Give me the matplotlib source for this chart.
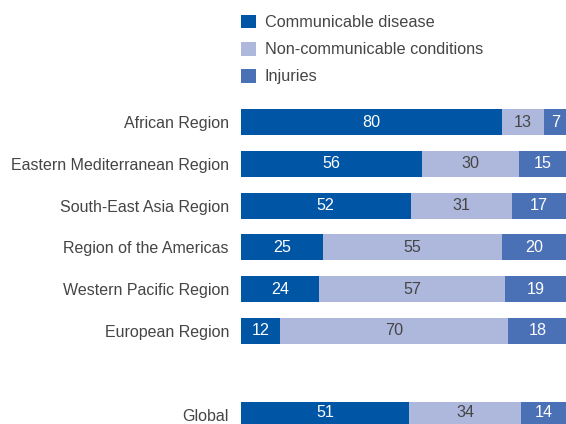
import matplotlib.pyplot as plt
from matplotlib.patches import Patch
import numpy as np

plt.rcParams['font.family'] = ['Liberation Sans', 'DejaVu Sans']

# Data
regions = ['African Region', 'Eastern Mediterranean Region', 'South-East Asia Region',
           'Region of the Americas', 'Western Pacific Region', 'European Region', 'Global']
communicable = [80, 56, 52, 25, 24, 12, 51]
noncommunicable = [13, 30, 31, 55, 57, 70, 34]
injuries = [7, 15, 17, 20, 19, 18, 14]
series_names = ['Communicable disease', 'Non-communicable conditions', 'Injuries']

colors = ['#0055A5', '#AEB8DC', '#4A70B6']
text_colors = ['white', '#454545', 'white']
grey = '#454545'

# Global sits two rows below the last region
ypos = [0, 1, 2, 3, 4, 5, 7]

# rounded values do not always add to 100, bars are drawn full width
totals = np.array(communicable) + np.array(noncommunicable) + np.array(injuries)

fig = plt.figure(figsize=(5.66, 4.24), dpi=100)
ax = fig.add_axes([241 / 566, 0, 326 / 566, 1])

left = np.zeros(len(regions))
for vals, col, tcol in zip([communicable, noncommunicable, injuries], colors, text_colors):
    share = np.array(vals) / totals * 100
    bars = ax.barh(ypos, share, left=left, height=0.62, color=col, linewidth=0)
    ax.bar_label(bars, labels=[str(v) for v in vals], label_type='center',
                 color=tcol, fontsize=11.6)
    left += share

ax.set_xlim(0, 100)
ax.set_ylim(7.225, -2.919)
ax.set_yticks(ypos)
ax.set_yticklabels(regions, fontsize=11.5, color=grey)
ax.tick_params(axis='y', length=0, pad=8.7)
ax.set_xticks([])
for s in ax.spines.values():
    s.set_visible(False)

handles = [Patch(facecolor=c, edgecolor='none') for c in colors]
fig.legend(handles, series_names, loc='upper left', bbox_to_anchor=(241 / 566, 1 - 15 / 424),
           frameon=False, fontsize=11.7, handlelength=0.9, handleheight=0.9,
           handletextpad=0.55, labelspacing=0.72, borderpad=0, borderaxespad=0,
           labelcolor=grey)

fig.savefig('out.png', dpi=100)
